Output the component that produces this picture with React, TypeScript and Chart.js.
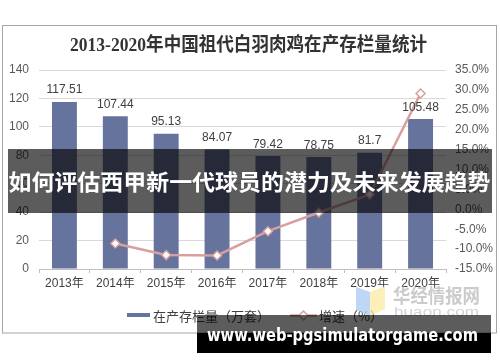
import React, { useEffect, useRef } from 'react';
import { Chart, registerables } from 'chart.js';

Chart.register(...registerables);

const TITLE = '2013-2020年中国祖代白羽肉鸡在产存栏量统计';
const CATEGORIES = ['2013年', '2014年', '2015年', '2016年', '2017年', '2018年', '2019年', '2020年'];
const STOCK = [117.51, 107.44, 95.13, 84.07, 79.42, 78.75, 81.7, 105.48];
const GROWTH = [null, -8.6, -11.5, -11.6, -5.5, -0.8, 3.7, 29.1];
const SERIES_NAMES = ['在产存栏量（万套）', '增速（%）'];
const LEFT_AXIS = { min: 0, max: 140, step: 20 };
const RIGHT_AXIS = { min: -15, max: 35, step: 5 };
const BANNER_TEXT = '如何评估西甲新一代球员的潜力及未来发展趋势';
const URL_TEXT = 'www.web-pgsimulatorgame.com';
const WM_CN = '华经情报网';
const WM_EN = 'huaon.com';

const BAR_COLOR = '#66739c';
const LINE_COLOR = '#d7a09e';
const SANS = '"Liberation Sans", "Noto Sans CJK SC", sans-serif';
const CJK = '"Noto Sans CJK SC", "Liberation Sans", sans-serif';

function fitText(ctx: CanvasRenderingContext2D, text: string, cx: number, cy: number, width: number, font: string, color: string) {
  ctx.save();
  ctx.font = font;
  ctx.fillStyle = color;
  ctx.textBaseline = 'middle';
  ctx.textAlign = 'left';
  const w = ctx.measureText(text).width;
  const s = width / w;
  ctx.translate(cx - width / 2, cy);
  ctx.scale(s, 1);
  ctx.fillText(text, 0, 0);
  ctx.restore();
}

const decor = {
  id: 'decor',
  beforeDraw(chart: any) {
    const ctx: CanvasRenderingContext2D = chart.ctx;
    ctx.save();
    ctx.fillStyle = '#ffffff';
    ctx.fillRect(0, 0, chart.width, chart.height);
    ctx.strokeStyle = '#a6a6a6';
    ctx.lineWidth = 1;
    ctx.strokeRect(2.5, 25.5, 494, 307.5);
    ctx.restore();
    fitText(ctx, TITLE, 248.5, 46, 357, 'bold 19px "Liberation Serif", "Noto Sans CJK SC", serif', '#333333');
  },
  afterDatasetsDraw(chart: any) {
    const ctx: CanvasRenderingContext2D = chart.ctx;
    const meta = chart.getDatasetMeta(0);
    ctx.save();
    ctx.font = '12px ' + SANS;
    ctx.fillStyle = '#404040';
    ctx.textAlign = 'center';
    ctx.textBaseline = 'alphabetic';
    meta.data.forEach((bar: any, i: number) => {
      ctx.fillText(String(STOCK[i]), bar.x, bar.y - 8.5);
    });
    ctx.restore();
  },
  afterDraw(chart: any) {
    const ctx: CanvasRenderingContext2D = chart.ctx;
    const ds = chart.data.datasets;
    // legend
    ctx.save();
    ctx.fillStyle = ds[0].backgroundColor;
    ctx.fillRect(127, 313, 23, 4);
    ctx.font = '13px ' + CJK;
    ctx.fillStyle = '#404040';
    ctx.textBaseline = 'middle';
    ctx.textAlign = 'left';
    ctx.fillText(ds[0].label, 153, 316.5);
    ctx.strokeStyle = ds[1].borderColor;
    ctx.lineWidth = 2.5;
    ctx.beginPath();
    ctx.moveTo(290, 315.5);
    ctx.lineTo(317, 315.5);
    ctx.stroke();
    ctx.beginPath();
    ctx.moveTo(303.5, 311);
    ctx.lineTo(308, 315.5);
    ctx.lineTo(303.5, 320);
    ctx.lineTo(299, 315.5);
    ctx.closePath();
    ctx.fillStyle = '#ffffff';
    ctx.fill();
    ctx.lineWidth = 1.5;
    ctx.stroke();
    ctx.fillStyle = '#404040';
    ctx.fillText(ds[1].label, 319, 316.5);
    ctx.restore();

    // watermark
    ctx.save();
    ctx.globalAlpha = 0.75;
    ctx.fillStyle = '#a9c9f2';
    ctx.beginPath();
    ctx.moveTo(356, 287);
    ctx.lineTo(370, 292);
    ctx.lineTo(370, 316);
    ctx.lineTo(356, 310);
    ctx.closePath();
    ctx.fill();
    ctx.fillStyle = '#fbe9a3';
    ctx.beginPath();
    ctx.moveTo(370, 292);
    ctx.lineTo(385, 286);
    ctx.lineTo(385, 309);
    ctx.lineTo(370, 316);
    ctx.closePath();
    ctx.fill();
    ctx.restore();
    fitText(ctx, WM_CN, 436.5, 296, 87, 'bold 19px ' + CJK, 'rgba(190,190,190,0.8)');
    fitText(ctx, WM_EN, 436.5, 312, 85, '13px ' + SANS, 'rgba(200,200,200,0.8)');

    // banners
    ctx.save();
    ctx.fillStyle = 'rgba(0,0,0,0.64)';
    ctx.fillRect(8, 149, 484, 64);
    ctx.fillRect(197, 315, 294, 18);
    ctx.fillStyle = '#000000';
    ctx.fillRect(197, 333, 294, 20);
    ctx.restore();
    fitText(ctx, BANNER_TEXT, 249.5, 182, 482, 'bold 22px ' + CJK, '#ffffff');
    fitText(ctx, URL_TEXT, 342.5, 337, 271, 'bold 17px "DejaVu Sans", sans-serif', '#ffffff');
  },
};

export default function App() {
  const ref = useRef<HTMLCanvasElement | null>(null);
  useEffect(() => {
    if (!ref.current) return;
    const chart = new Chart(ref.current, {
      type: 'bar',
      data: {
        labels: CATEGORIES,
        datasets: [
          {
            type: 'bar',
            label: SERIES_NAMES[0],
            data: STOCK,
            backgroundColor: BAR_COLOR,
            yAxisID: 'y',
            barPercentage: 0.49,
            categoryPercentage: 1,
            order: 2,
          } as any,
          {
            type: 'line',
            label: SERIES_NAMES[1],
            data: GROWTH,
            borderColor: LINE_COLOR,
            backgroundColor: LINE_COLOR,
            borderWidth: 2.5,
            pointStyle: 'rectRot',
            pointRadius: 4.5,
            pointBackgroundColor: '#ffffff',
            pointBorderColor: LINE_COLOR,
            pointBorderWidth: 1.5,
            yAxisID: 'y1',
            tension: 0,
            spanGaps: false,
            order: 1,
          } as any,
        ],
      },
      options: {
        responsive: false,
        animation: false,
        devicePixelRatio: 1,
        layout: { padding: { left: 0, right: 0, top: 70, bottom: 63 } },
        plugins: {
          legend: { display: false },
          title: { display: false },
          tooltip: { enabled: false },
        },
        scales: {
          x: {
            offset: true,
            grid: { display: true, drawOnChartArea: false, drawTicks: true, tickLength: 4, color: '#bfbfbf', offset: true },
            border: { display: true, color: '#bfbfbf' },
            ticks: { color: '#404040', font: { size: 12, family: SANS }, padding: 3, maxRotation: 0 },
            afterFit: (s: any) => { s.height = 30; },
          },
          y: {
            position: 'left',
            min: LEFT_AXIS.min,
            max: LEFT_AXIS.max,
            ticks: { stepSize: LEFT_AXIS.step, color: '#595959', font: { size: 12, family: SANS }, padding: 10 },
            grid: { color: '#d9d9d9', drawTicks: false },
            border: { display: false },
            afterFit: (s: any) => { s.width = 39; },
          },
          y1: {
            position: 'right',
            min: RIGHT_AXIS.min,
            max: RIGHT_AXIS.max,
            ticks: {
              stepSize: RIGHT_AXIS.step,
              color: '#595959',
              font: { size: 12, family: SANS },
              padding: 9,
              callback: (v: any) => Number(v).toFixed(1) + '%',
            },
            grid: { display: false, drawTicks: false },
            border: { display: false },
            afterFit: (s: any) => { s.width = 54; },
          },
        },
      },
      plugins: [decor],
    });
    return () => chart.destroy();
  }, []);
  return (
    <div style={{ position: 'fixed', left: 0, top: 0, width: 500, height: 362, background: '#fff' }}>
      <canvas ref={ref} width={500} height={362} style={{ display: 'block', width: 500, height: 362 }} />
    </div>
  );
}
